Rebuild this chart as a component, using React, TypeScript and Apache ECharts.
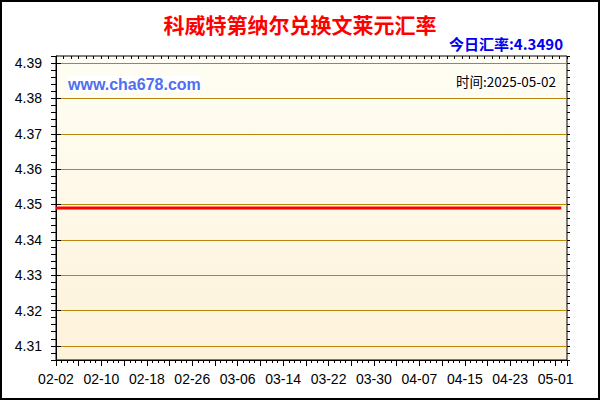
import { useEffect, useRef } from "react";
import * as echarts from "echarts";

const START = "2025-02-02";
const AXIS_END = "2025-05-03";

const dates = [
  "2025-02-02", "2025-02-10", "2025-02-18", "2025-02-26", "2025-03-06",
  "2025-03-14", "2025-03-22", "2025-03-30", "2025-04-07", "2025-04-15",
  "2025-04-23", "2025-05-01", "2025-05-02"
];
const rates = [
  4.349, 4.349, 4.349, 4.349, 4.349, 4.349, 4.349,
  4.349, 4.349, 4.349, 4.349, 4.349, 4.349
];

const Y_MIN = 4.306;
const Y_MAX = 4.392;
const Y_MAJOR = [4.31, 4.32, 4.33, 4.34, 4.35, 4.36, 4.37, 4.38, 4.39];

const TITLE = "科威特第纳尔兑换文莱元汇率";
const TODAY = "今日汇率:4.3490";
const SITE = "www.cha678.com";
const TIME = "时间:2025-05-02";

const DAY = 86400000;
const GOLD = "#b8860b";
const NONE = "rgba(0,0,0,0)";

function dayIndex(d: string): number {
  return Math.round((Date.parse(d) - Date.parse(START)) / DAY);
}

function dayLabel(v: number): string {
  return new Date(Date.parse(START) + v * DAY).toISOString().slice(5, 10);
}

function isMajor(v: number): boolean {
  return Math.round(v * 1000) % 10 === 0;
}

export default function App() {
  const ref = useRef<HTMLDivElement | null>(null);

  useEffect(() => {
    document.body.style.margin = "0";
    if (!ref.current) {
      return;
    }
    const chart = echarts.init(ref.current, null, { renderer: "svg" });
    const latin = "'Liberation Sans', Arial, sans-serif";
    const cjk = "'Noto Sans CJK SC', sans-serif";

    // minor ticks every 0.002 from Y_MIN: majors fall on every fifth one
    const phase = Math.round((Y_MAJOR[0] - Y_MIN) / 0.002) % 5;
    const gridColors = [0, 1, 2, 3, 4].map((i) => (i === phase ? GOLD : NONE));

    chart.setOption({
      animation: false,
      backgroundColor: "#ffffff",
      title: {
        text: TITLE,
        left: "center",
        top: 8,
        textStyle: { color: "#ff0000", fontSize: 21, fontWeight: "bold", fontFamily: cjk }
      },
      grid: {
        left: 56,
        top: 56,
        width: 511,
        height: 304,
        show: true,
        borderColor: "#000000",
        borderWidth: 1,
        backgroundColor: new echarts.graphic.LinearGradient(0, 0, 0, 1, [
          { offset: 0, color: "#fffef4" },
          { offset: 1, color: "#fdf2da" }
        ])
      },
      xAxis: [
        {
          type: "value",
          position: "bottom",
          min: 0,
          max: dayIndex(AXIS_END),
          interval: 4,
          axisLine: { show: true, lineStyle: { color: "#000000", width: 1 } },
          axisTick: { show: true, length: 6, lineStyle: { color: "#000000" } },
          minorTick: { show: true, splitNumber: 4, length: 3, lineStyle: { color: "#000000" } },
          splitLine: { show: false },
          axisLabel: {
            margin: 12,
            fontSize: 14,
            color: "#000000",
            fontFamily: latin,
            formatter: (v: number) => (v % 8 === 0 ? dayLabel(v) : "")
          }
        },
        {
          type: "value",
          position: "top",
          min: 0,
          max: 68,
          interval: 1,
          axisLine: { show: false },
          axisTick: { show: true, inside: true, length: 3, lineStyle: { color: "#000000" } },
          splitLine: { show: false },
          axisLabel: { show: false }
        }
      ],
      yAxis: [
        {
          type: "value",
          position: "left",
          min: Y_MIN,
          max: Y_MAX,
          interval: 0.002,
          axisLine: { show: true, lineStyle: { color: "#000000", width: 1 } },
          axisTick: { show: true, length: 5, lineStyle: { color: "#000000" } },
          splitLine: { show: true, lineStyle: { color: gridColors, width: 1 } },
          axisLabel: {
            margin: 14,
            fontSize: 14,
            color: "#000000",
            fontFamily: latin,
            formatter: (v: number) => (isMajor(v) ? v.toFixed(2) : "")
          }
        },
        {
          type: "value",
          position: "left",
          min: Y_MIN,
          max: Y_MAX,
          axisLine: { show: false },
          axisTick: {
            show: true,
            inside: true,
            length: 5,
            customValues: Y_MAJOR,
            lineStyle: { color: "#000000" }
          },
          splitLine: { show: false },
          axisLabel: { show: false, customValues: Y_MAJOR }
        },
        {
          type: "value",
          position: "right",
          min: Y_MIN,
          max: Y_MAX,
          interval: 0.002,
          axisLine: { show: false },
          axisTick: { show: true, length: 3, lineStyle: { color: "#000000" } },
          splitLine: { show: false },
          axisLabel: { show: false }
        }
      ],
      series: [
        {
          type: "line",
          xAxisIndex: 0,
          yAxisIndex: 0,
          data: dates.map((d, i) => [dayIndex(d), rates[i]]),
          showSymbol: false,
          lineStyle: { color: "#ff0000", width: 3 },
          z: 5
        }
      ],
      graphic: [
        {
          type: "rect",
          shape: { x: 1, y: 1, width: 598, height: 398 },
          style: { fill: "none", stroke: "#000000", lineWidth: 2 },
          silent: true
        },
        {
          type: "text",
          x: 563,
          y: 43,
          style: {
            text: TODAY,
            fill: "#0000ee",
            font: `bold 15px ${cjk}`,
            align: "right",
            verticalAlign: "middle"
          }
        },
        {
          type: "text",
          x: 68,
          y: 84,
          z: 10,
          style: {
            text: SITE,
            fill: "#4f6ef2",
            font: `bold 16px ${latin}`,
            align: "left",
            verticalAlign: "middle",
            backgroundColor: "#ffffff"
          }
        },
        {
          type: "text",
          x: 556,
          y: 81,
          z: 10,
          style: {
            text: TIME,
            fill: "#000000",
            font: `13.5px ${cjk}`,
            align: "right",
            verticalAlign: "middle",
            backgroundColor: "#ffffff"
          }
        }
      ]
    });

    return () => {
      chart.dispose();
    };
  }, []);

  return <div ref={ref} style={{ width: 600, height: 400 }} />;
}
